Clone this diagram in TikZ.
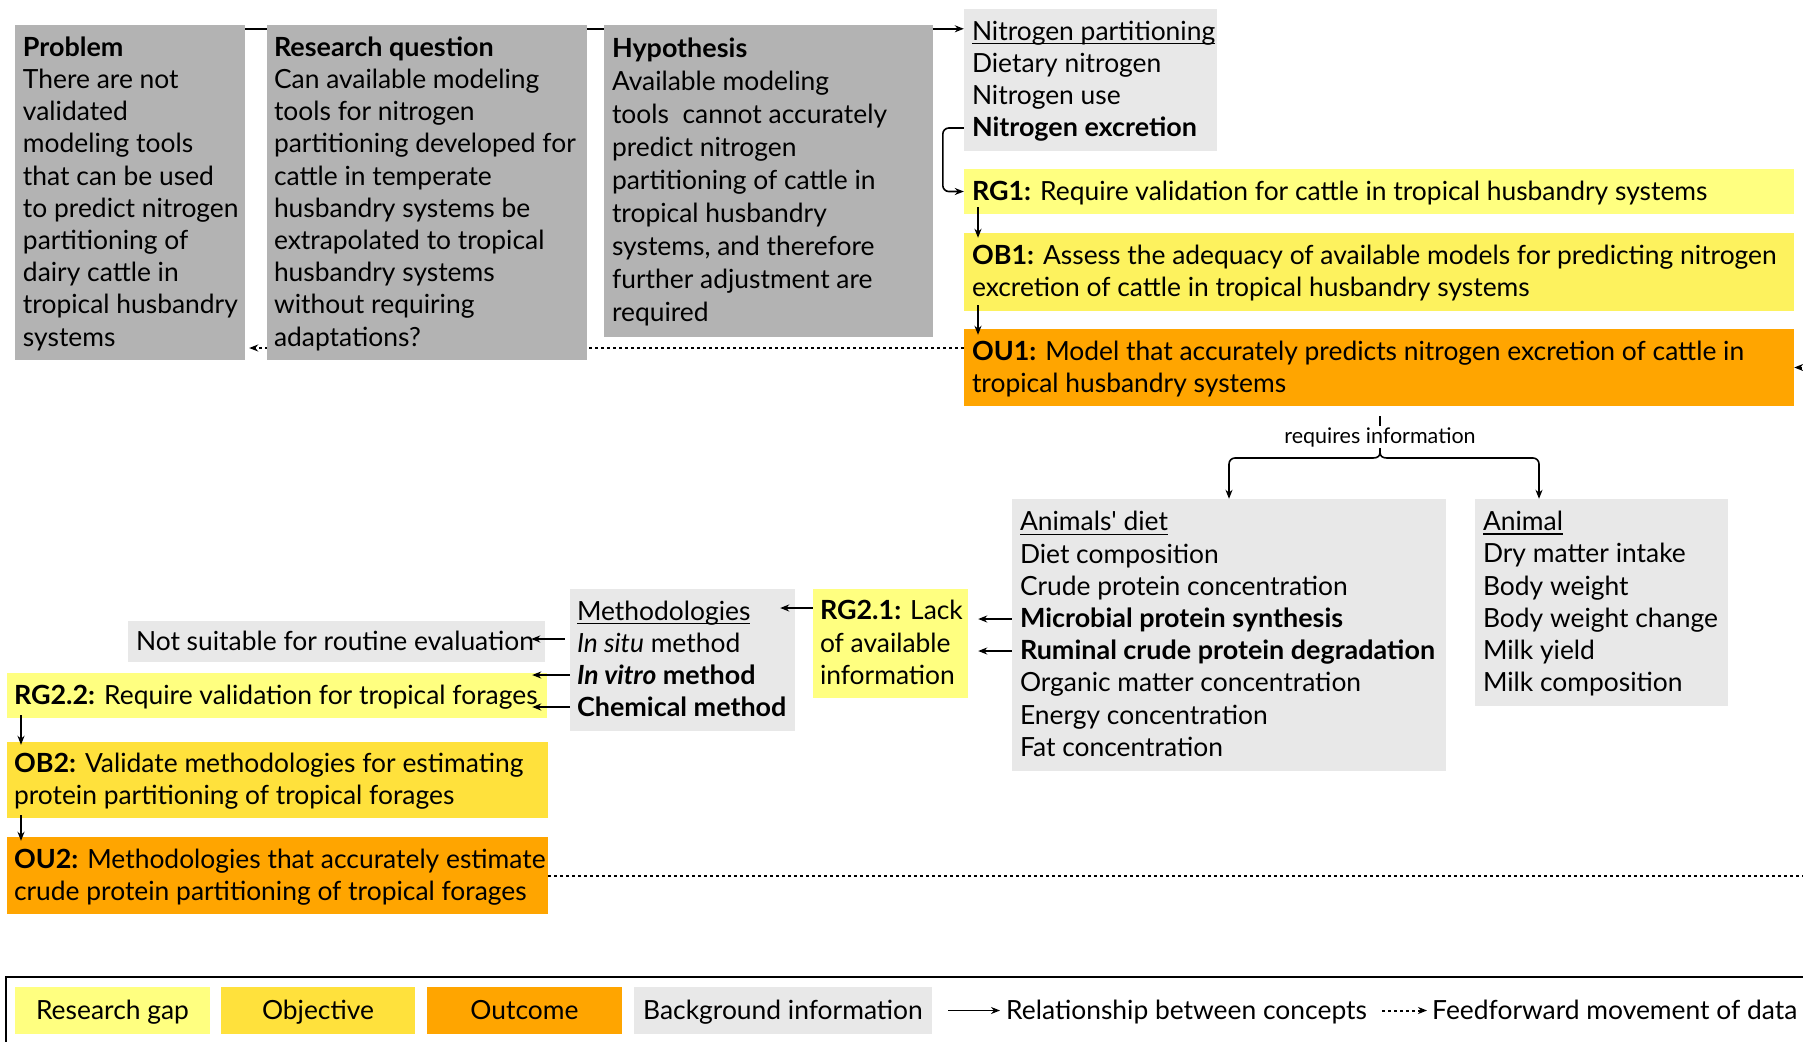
\documentclass[tikz,border=0pt]{standalone}
\usepackage{fontspec}
\setmainfont{Lato}[BoldFeatures={FakeStretch=1.02}]
\usetikzlibrary{arrows.meta,backgrounds,calc}
\definecolor{dgray}{HTML}{B3B3B3}
\definecolor{lgray}{HTML}{E8E8E8}
\definecolor{rgy}{HTML}{FFFF80}
\definecolor{oby}{HTML}{FDF25E}
\definecolor{obytwo}{HTML}{FFE13C}
\definecolor{ouo}{HTML}{FFA500}
\newcommand\tb[1]{\raisebox{-2.2pt}[\height][\depth]{\begin{tabular}{@{}l@{}}#1\end{tabular}}}
\newcommand\tc[1]{\raisebox{-2.2pt}[\height][\depth]{\begin{tabular}{@{}c@{}}#1\end{tabular}}}
\newcommand\myul[1]{\setbox0\hbox{#1}\rlap{\rule[-4pt]{\wd0}{1.3pt}}\box0}
\renewcommand\arraystretch{1}
\tikzset{
  box/.style={rectangle, inner xsep=8pt, inner ysep=0pt, font=\fontsize{26.4}{32.2}\selectfont, text=black},
  bgd/.style={box, fill=dgray},
  bgl/.style={box, fill=lgray},
  gapbox/.style={box, fill=rgy},
  objbox/.style={box, fill=oby},
  objboxtwo/.style={box, fill=obytwo},
  outbox/.style={box, fill=ouo},
  arr/.style={line width=1.6pt, -{Stealth[length=9pt,width=7pt]}},
  dotarr/.style={arr, line width=2pt, dash pattern=on 3pt off 3pt},
  plain/.style={line width=1.6pt},
}
\begin{document}
\begin{tikzpicture}[x=1pt,y=-1pt]
\useasboundingbox (0,0) rectangle (1803,1041);
\clip (0,0) rectangle (1803,1041);

% top row
\node[bgd, minimum width=230pt, minimum height=335pt] (prob) at (130,192.5)
 {\makebox[214pt][l]{\tb{\textbf{Problem}\\There are not\\validated\\modeling tools\\that can be used\\to predict nitrogen\\partitioning of\\dairy cattle in\\tropical husbandry\\systems}}};
\node[bgd, inner xsep=7pt, minimum width=320pt, minimum height=335pt] (rq) at (427,192.5)
 {\makebox[306pt][l]{\tb{\textbf{Research question}\\Can available modeling\\tools for nitrogen\\partitioning developed for\\cattle in temperate\\husbandry systems be\\extrapolated to tropical\\husbandry systems\\without requiring\\adaptations?}}};
\node[bgd, font=\fontsize{26.4}{33}\selectfont, minimum width=329pt, minimum height=312pt] (hyp) at (768.5,181)
 {\makebox[313pt][l]{\tb{\textbf{Hypothesis}\\Available modeling\\tools\ \ cannot accurately\\predict nitrogen\\partitioning of cattle in\\tropical husbandry\\systems, and therefore\\further adjustment are\\required}}};
\node[bgl, minimum width=253pt, minimum height=142pt] (npart) at (1090.5,80)
 {\makebox[237pt][l]{\tb{\myul{Nitrogen partitioning}\\Dietary nitrogen\\Nitrogen use\\\textbf{Nitrogen excretion}}}};
\node[gapbox, minimum width=830pt, minimum height=45pt] (rg1) at (1379,191.5)
 {\makebox[814pt][l]{\tb{\textbf{RG1:} Require validation for cattle in tropical husbandry systems}}};
\node[objbox, minimum width=830pt, minimum height=78pt] (ob1) at (1379,272)
 {\makebox[814pt][l]{\tb{\textbf{OB1:} Assess the adequacy of available models for predicting nitrogen\\excretion of cattle in tropical husbandry systems}}};
\node[outbox, minimum width=830pt, minimum height=77pt] (ou1) at (1379,367.5)
 {\makebox[814pt][l]{\tb{\textbf{OU1:} Model that accurately predicts nitrogen excretion of cattle in\\tropical husbandry systems}}};

% middle
\node[bgl, minimum width=434pt, minimum height=272pt] (diet) at (1229,635)
 {\makebox[418pt][l]{\tb{\myul{Animals\textquotesingle{} diet}\\Diet composition\\Crude protein concentration\\\textbf{Microbial protein synthesis}\\\textbf{Ruminal crude protein degradation}\\Organic matter concentration\\Energy concentration\\Fat concentration}}};
\node[bgl, minimum width=253pt, minimum height=207pt] (animal) at (1601.5,602.5)
 {\makebox[237pt][l]{\tb{\myul{Animal}\\Dry matter intake\\Body weight\\Body weight change\\Milk yield\\Milk composition}}};
\node[gapbox, inner xsep=7pt, minimum width=155pt, minimum height=109pt] (rg21) at (890.5,643.5)
 {\makebox[141pt][l]{\tb{\textbf{RG2.1:} Lack\\of available\\information}}};
\node[bgl, inner xsep=7pt, minimum width=225pt, minimum height=142pt] (meth) at (682.5,660)
 {\makebox[211pt][l]{\tb{\myul{Methodologies}\\\textit{In situ} method\\\textbf{\textit{In vitro} method}\\\textbf{Chemical method}}}};
\node[bgl, minimum width=417pt, minimum height=41pt] (notsuit) at (336.5,641.5)
 {\makebox[401pt][l]{\tb{Not suitable for routine evaluation}}};
\node[gapbox, inner xsep=7pt, minimum width=540pt, minimum height=45pt] (rg22) at (277,695.5)
 {\makebox[526pt][l]{\tb{\textbf{RG2.2:} Require validation for tropical forages}}};
\node[objboxtwo, inner xsep=7pt, minimum width=541pt, minimum height=76pt] (ob2) at (277.5,780)
 {\makebox[527pt][l]{\tb{\textbf{OB2:} Validate methodologies for estimating\\protein partitioning of tropical forages}}};
\node[outbox, inner xsep=7pt, minimum width=541pt, minimum height=77pt] (ou2) at (277.5,875.5)
 {\makebox[527pt][l]{\tb{\textbf{OU2:} Methodologies that accurately estimate\\crude protein partitioning of tropical forages}}};

% helper coordinates
\coordinate (tl) at ([yshift=-4pt]prob.north east);
\coordinate (dy) at (0,348);
\coordinate (nexc) at (0,128);
\coordinate (vx) at (978,0);
\coordinate (lx) at (21,0);
\coordinate (rx) at (1815,0);
\coordinate (brace) at (0,458);
\coordinate (anx) at (1539,0);
\coordinate (mic) at (0,619);
\coordinate (rum) at (0,651);
\coordinate (rgm) at (0,608);
\coordinate (situ) at (0,639);
\coordinate (vitro) at (0,675);
\coordinate (chem) at (0,707);

% connectors behind boxes
\begin{scope}[on background layer]
\draw[arr] (tl) -- (tl -| npart.west);
\draw[dotarr] (ou1.west |- dy) -- ([xshift=4pt]prob.east |- dy);
\draw[plain] (1380,416) -- (1380,452);
\end{scope}

\draw[arr, rounded corners=6pt] (npart.west |- nexc) -- ++(-21,0) |- (rg1.west);
\draw[arr] ([yshift=7pt]rg1.south -| vx) -- ([yshift=-5pt]ob1.north -| vx);
\draw[arr] ([yshift=6pt]ob1.south -| vx) -- ([yshift=-6pt]ou1.north -| vx);
\draw[dotarr] (ou2.east) -- (ou2.east -| rx) -- (ou1.east -| rx) -- (ou1.east);

\node[font=\fontsize{21.5}{24}\selectfont, fill=white, inner sep=1pt] (req) at (1380,437) {requires information};
\draw[arr] (1380,452) .. controls (1380,456) and (1378,458) .. (1373,458) [rounded corners=6pt] -- (diet.north |- brace) -- (diet.north);
\draw[arr] (1380,452) .. controls (1380,456) and (1382,458) .. (1387,458) [rounded corners=6pt] -- (anx |- brace) -- (animal.north -| anx);

\draw[arr] (diet.west |- mic) -- ([xshift=10pt]rg21.east |- mic);
\draw[arr] (diet.west |- rum) -- ([xshift=10pt]rg21.east |- rum);
\draw[arr] (rg21.west |- rgm) -- ([xshift=-15pt]meth.east |- rgm);
\draw[arr] ([xshift=-5pt]meth.west |- situ) -- ([xshift=-14pt]notsuit.east |- situ);
\draw[arr] (meth.west |- vitro) -- ([xshift=-15pt]rg22.east |- vitro);
\draw[arr] (meth.west |- chem) -- ([xshift=-15pt]rg22.east |- chem);
\draw[arr] ([yshift=3pt]rg22.south -| lx) -- ([yshift=-3pt]ob2.north -| lx);
\draw[arr] ([yshift=3pt]ob2.south -| lx) -- ([yshift=-4pt]ou2.north -| lx);

% legend
\draw[line width=2.2pt] (6,1060) -- (6,977) -- (1815,977);
\node[box, fill=rgy, minimum width=195pt, minimum height=47pt] (lgap) at (112.5,1010.5) {\tc{Research gap}};
\node[box, fill=obytwo, minimum width=194pt, minimum height=47pt] (lobj) at (318,1010.5) {\tc{Objective}};
\node[box, fill=ouo, minimum width=195pt, minimum height=47pt] (lout) at (524.5,1010.5) {\tc{Outcome}};
\node[box, fill=lgray, minimum width=298pt, minimum height=47pt] (lbg) at (783,1010.5) {\tc{Background information}};
\node[box, inner xsep=0pt, anchor=west] (lrel) at (1006,1010.5) {\tb{Relationship between concepts}};
\node[box, inner xsep=0pt, anchor=west] (lff) at (1432,1010.5) {\tb{Feedforward movement of data}};
\coordinate (lra) at (948,1010.5);
\coordinate (lfa) at (1382,1010.5);
\draw[arr] (lra) -- ([xshift=-6pt]lrel.west);
\draw[dotarr] (lfa) -- ([xshift=-5pt]lff.west);
\end{tikzpicture}
\end{document}
